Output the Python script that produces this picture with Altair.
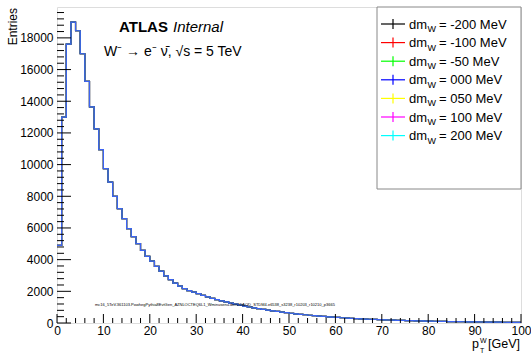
import altair as alt
import pandas as pd

# ---------------- data ----------------
bin_edges = list(range(101))  # p_T^W bins, 1 GeV wide, 0..100 GeV
counts = [4900, 13000, 17600, 19000, 18450, 17000, 15250, 13650, 12250, 10950,
          9750, 8900, 8000, 7220, 6590, 5960, 5450, 5010, 4590, 4210,
          3910, 3580, 3280, 2980, 2740, 2520, 2330, 2170, 2050, 1950,
          1850, 1750, 1650, 1560, 1480, 1400, 1330, 1260, 1190, 1130,
          1070, 1010, 960, 910, 860, 815, 770, 730, 690, 650,
          615, 580, 550, 520, 490, 465, 440, 415, 390, 370,
          350, 330, 312, 295, 280, 265, 250, 237, 224, 212,
          200, 190, 180, 170, 161, 152, 144, 136, 129, 122,
          115, 109, 103, 97, 92, 87, 82, 78, 74, 70,
          66, 62, 59, 56, 53, 50, 47, 44, 42, 40]
series_labels = ["-200", "-100", "-50", "000", "050", "100", "200"]
series_colors = ["#000000", "#ff0000", "#00ff00", "#0000ff", "#ffff00", "#ff00ff", "#00ffff"]
series_opacity = [1.0, 1.0, 1.0, 1.0, 0.1, 0.3, 0.35]
y_major = list(range(0, 18001, 2000))
y_minor = [v for v in range(0, 19951, 400) if v % 2000]
x_major = list(range(0, 101, 10))
x_minor = [v for v in range(0, 101, 2) if v % 10]
ntuple_text = "mc16_5TeV.361103.PowhegPythia8EvtGen_AZNLOCTEQ6L1_Wminusenu.deriv.DAOD_STDM4.e6538_s3238_r10203_r10210_p3665"

# ---------------- layout ----------------
W, H = 464, 316
OX, OY = 57, 7
FONT = "Liberation Sans"
xs = alt.Scale(domain=[0, 100], nice=False, zero=False)
ys = alt.Scale(domain=[0, 19950], nice=False)
xax = alt.Axis(values=x_major, tickSize=0, labelFontSize=12, labelFont=FONT,
               labelColor="black", domain=False, grid=False, title=None,
               labelPadding=2, labelFlush=False, format="d")
yax = alt.Axis(values=y_major, tickSize=0, labelFontSize=12, labelFont=FONT,
               labelColor="black", domain=False, grid=False, title=None,
               labelPadding=4, format="d")

hist_df = pd.DataFrame({"x": bin_edges, "y": counts + [counts[-1]]})

layers = []
for lab, col, op in zip(series_labels, series_colors, series_opacity):
    layers.append(
        alt.Chart(hist_df).mark_line(interpolate="step-after", color=col, strokeWidth=1.2,
                                     opacity=op, clip=True).encode(
            x=alt.X("x:Q", scale=xs, axis=xax, title=None),
            y=alt.Y("y:Q", scale=ys, axis=yax, title=None),
        )
    )

# inward ticks
ymaj = alt.Chart(pd.DataFrame({"v": y_major})).mark_rule(color="black", strokeWidth=1).encode(
    y=alt.Y("v:Q", scale=ys, axis=yax, title=None), x=alt.value(0), x2=alt.value(14))
ymin = alt.Chart(pd.DataFrame({"v": y_minor})).mark_rule(color="black", strokeWidth=1).encode(
    y=alt.Y("v:Q", scale=ys, axis=yax, title=None), x=alt.value(0), x2=alt.value(7))
xmaj = alt.Chart(pd.DataFrame({"v": x_major})).mark_rule(color="black", strokeWidth=1).encode(
    x=alt.X("v:Q", scale=xs, axis=xax, title=None), y=alt.value(H), y2=alt.value(H - 9))
xmin = alt.Chart(pd.DataFrame({"v": x_minor})).mark_rule(color="black", strokeWidth=1).encode(
    x=alt.X("v:Q", scale=xs, axis=xax, title=None), y=alt.value(H), y2=alt.value(H - 5))


def txt(t, x, y, size=12, **kw):
    return alt.Chart(pd.DataFrame({"t": [t]})).mark_text(
        font=FONT, fontSize=size, color="black", **kw).encode(
        x=alt.value(x - OX), y=alt.value(y - OY), text="t:N")


texts = [
    txt("Entries", 13, 8, 12, angle=270, align="right", baseline="middle"),
    txt("p", 472, 348, 12.5, align="left", baseline="alphabetic"),
    txt("W", 480, 342.5, 7, align="left", baseline="alphabetic"),
    txt("T", 480, 353, 7, align="left", baseline="alphabetic"),
    txt("[GeV]", 520, 348, 12.5, align="right", baseline="alphabetic"),
    txt("ATLAS", 119, 32, 15, align="left", baseline="alphabetic", fontWeight="bold"),
    txt("Internal", 173, 32, 15, align="left", baseline="alphabetic", fontStyle="italic"),
    txt("W\u207b \u2192 e\u207b \u03bd\u0304, \u221as = 5 TeV", 104, 56, 14, align="left",
        baseline="alphabetic"),
    txt(ntuple_text, 95, 305, 4, align="left", baseline="middle"),
]

# legend box + entries
legend_layers = [
    alt.Chart(pd.DataFrame({"a": [0]})).mark_rect(fill="white", stroke="#888888",
                                                   strokeWidth=1).encode(
        x=alt.value(377 - OX), x2=alt.value(521 - OX), y=alt.value(0), y2=alt.value(182))
]
for i, (lab, col) in enumerate(zip(series_labels, series_colors)):
    yc = 24 + i * 18.6
    legend_layers.append(
        alt.Chart(pd.DataFrame({"a": [0]})).mark_rule(color=col, strokeWidth=1.2).encode(
            x=alt.value(381 - OX), x2=alt.value(405 - OX), y=alt.value(yc - OY)))
    legend_layers.append(
        alt.Chart(pd.DataFrame({"a": [0]})).mark_rule(color=col, strokeWidth=1.2).encode(
            x=alt.value(393 - OX), y=alt.value(yc - 5 - OY), y2=alt.value(yc + 5 - OY)))
    legend_layers.append(txt("dm", 409, yc + 4.5, 13, align="left", baseline="alphabetic"))
    legend_layers.append(txt("W", 427.5, yc + 8, 9, align="left", baseline="alphabetic"))
    legend_layers.append(txt("= " + lab + " MeV", 439, yc + 4.5, 13, align="left",
                             baseline="alphabetic"))

chart = alt.layer(*layers, ymaj, ymin, xmaj, xmin, *texts, *legend_layers).properties(
    width=W, height=H,
    padding={"left": OX, "top": OY, "right": 531 - OX - W, "bottom": 354 - OY - H},
    autosize=alt.AutoSizeParams(type="none"),
).configure_view(stroke="black", strokeWidth=1).configure(background="white")

chart.save("out.html", embed_options={"renderer": "svg", "actions": False})
